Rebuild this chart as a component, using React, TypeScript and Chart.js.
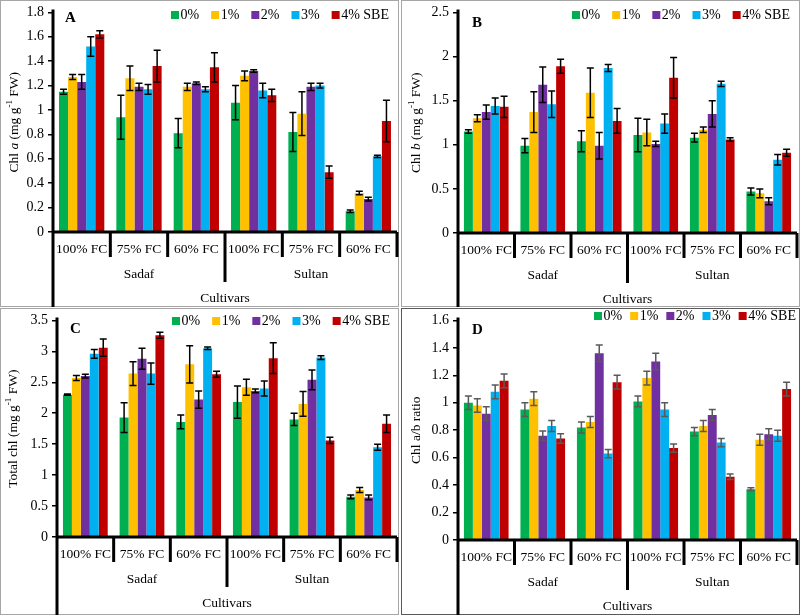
import React, { useEffect, useRef } from "react";
import { Chart, registerables } from "chart.js";
Chart.register(...registerables);

const FONT = "'Liberation Serif', 'Times New Roman', serif";

const categories = ["100% FC", "75% FC", "60% FC", "100% FC", "75% FC", "60% FC"];
const groups = ["Sadaf", "Sultan"];
const seriesNames = ["0%", "1%", "2%", "3%", "4% SBE"];
const seriesColors = ["#00B050", "#FFC000", "#7030A0", "#00B0F0", "#C00000"];

// Panel A: Chl a
const chlA0 = [1.15, 0.94, 0.81, 1.06, 0.82, 0.17];
const chlA1 = [1.27, 1.26, 1.19, 1.28, 0.97, 0.32];
const chlA2 = [1.23, 1.19, 1.22, 1.32, 1.19, 0.27];
const chlA3 = [1.52, 1.17, 1.17, 1.16, 1.2, 0.62];
const chlA4 = [1.62, 1.36, 1.35, 1.12, 0.49, 0.91];
const chlA0e = [0.02, 0.18, 0.12, 0.14, 0.16, 0.01];
const chlA1e = [0.02, 0.1, 0.03, 0.04, 0.18, 0.015];
const chlA2e = [0.06, 0.03, 0.01, 0.01, 0.03, 0.015];
const chlA3e = [0.08, 0.04, 0.02, 0.06, 0.02, 0.01];
const chlA4e = [0.03, 0.13, 0.12, 0.05, 0.05, 0.17];

// Panel B: Chl b
const chlB0 = [1.15, 0.99, 1.04, 1.11, 1.08, 0.47];
const chlB1 = [1.3, 1.37, 1.59, 1.14, 1.17, 0.45];
const chlB2 = [1.37, 1.68, 0.99, 1.01, 1.35, 0.36];
const chlB3 = [1.44, 1.46, 1.87, 1.24, 1.69, 0.83];
const chlB4 = [1.43, 1.89, 1.27, 1.76, 1.06, 0.91];
const chlB0e = [0.02, 0.08, 0.12, 0.19, 0.05, 0.04];
const chlB1e = [0.04, 0.23, 0.28, 0.15, 0.03, 0.05];
const chlB2e = [0.08, 0.2, 0.15, 0.03, 0.15, 0.04];
const chlB3e = [0.09, 0.15, 0.04, 0.11, 0.03, 0.06];
const chlB4e = [0.12, 0.08, 0.14, 0.23, 0.02, 0.04];

// Panel C: Total chl
const totC0 = [2.3, 1.93, 1.86, 2.18, 1.9, 0.65];
const totC1 = [2.57, 2.64, 2.79, 2.42, 2.15, 0.76];
const totC2 = [2.6, 2.88, 2.22, 2.36, 2.54, 0.64];
const totC3 = [2.96, 2.64, 3.05, 2.4, 2.9, 1.45];
const totC4 = [3.06, 3.26, 2.63, 2.89, 1.56, 1.83];
const totC0e = [0.01, 0.24, 0.11, 0.26, 0.1, 0.03];
const totC1e = [0.04, 0.19, 0.3, 0.13, 0.2, 0.04];
const totC2e = [0.03, 0.17, 0.14, 0.03, 0.16, 0.04];
const totC3e = [0.07, 0.17, 0.02, 0.12, 0.03, 0.05];
const totC4e = [0.14, 0.05, 0.05, 0.25, 0.05, 0.14];

// Panel D: Chl a/b ratio
const ratD0 = [1.0, 0.95, 0.82, 1.01, 0.79, 0.37];
const ratD1 = [0.98, 1.03, 0.86, 1.18, 0.83, 0.73];
const ratD2 = [0.92, 0.76, 1.36, 1.3, 0.91, 0.77];
const ratD3 = [1.08, 0.83, 0.63, 0.95, 0.71, 0.76];
const ratD4 = [1.16, 0.74, 1.15, 0.67, 0.46, 1.1];
const ratD0e = [0.05, 0.05, 0.04, 0.04, 0.03, 0.01];
const ratD1e = [0.05, 0.05, 0.04, 0.05, 0.04, 0.04];
const ratD2e = [0.05, 0.035, 0.06, 0.06, 0.04, 0.04];
const ratD3e = [0.05, 0.04, 0.03, 0.05, 0.03, 0.04];
const ratD4e = [0.05, 0.035, 0.05, 0.03, 0.02, 0.05];

type Seg = { t: string; s?: "i" | "sup" };

type Spec = {
  key: string;
  x: number; y: number; w: number; h: number;
  area: { l: number; r: number; t: number; b: number };
  max: number; step: number;
  title: Seg[];
  values: number[][];
  errors: number[][];
  legend: { x: number; y: number; spacing: number };
  letter: { x: number; y: number };
  titleX: number;
  errColor: string;
  border: string;
};

const panels: Spec[] = [
  {
    key: "A", x: 0, y: 0, w: 399, h: 307,
    area: { l: 53, r: 397, t: 10, b: 232 },
    max: 1.8, step: 0.2,
    title: [{ t: "Chl " }, { t: "a", s: "i" }, { t: " (mg g" }, { t: "-1", s: "sup" }, { t: " FW)" }],
    values: [chlA0, chlA1, chlA2, chlA3, chlA4],
    errors: [chlA0e, chlA1e, chlA2e, chlA3e, chlA4e],
    legend: { x: 171, y: 15, spacing: 12 },
    letter: { x: 65, y: 18 },
    titleX: 14, errColor: "#000", border: "#a6a6a6",
  },
  {
    key: "B", x: 401, y: 0, w: 399, h: 307,
    area: { l: 57, r: 396, t: 9, b: 233 },
    max: 2.5, step: 0.5,
    title: [{ t: "Chl " }, { t: "b", s: "i" }, { t: " (mg g" }, { t: "-1", s: "sup" }, { t: " FW)" }],
    values: [chlB0, chlB1, chlB2, chlB3, chlB4],
    errors: [chlB0e, chlB1e, chlB2e, chlB3e, chlB4e],
    legend: { x: 171, y: 15, spacing: 12 },
    letter: { x: 71, y: 23 },
    titleX: 15, errColor: "#000", border: "#a6a6a6",
  },
  {
    key: "C", x: 0, y: 308, w: 399, h: 307,
    area: { l: 57, r: 397, t: 8, b: 229 },
    max: 3.5, step: 0.5,
    title: [{ t: "Total chl (mg g" }, { t: "-1", s: "sup" }, { t: " FW)" }],
    values: [totC0, totC1, totC2, totC3, totC4],
    errors: [totC0e, totC1e, totC2e, totC3e, totC4e],
    legend: { x: 172, y: 13, spacing: 12 },
    letter: { x: 70, y: 21 },
    titleX: 13, errColor: "#000", border: "#a6a6a6",
  },
  {
    key: "D", x: 401, y: 308, w: 399, h: 307,
    area: { l: 57, r: 396, t: 8, b: 232 },
    max: 1.6, step: 0.2,
    title: [{ t: "Chl a/b ratio" }],
    values: [ratD0, ratD1, ratD2, ratD3, ratD4],
    errors: [ratD0e, ratD1e, ratD2e, ratD3e, ratD4e],
    legend: { x: 193, y: 8, spacing: 8 },
    letter: { x: 71, y: 22 },
    titleX: 15, errColor: "#595959", border: "#595959",
  },
];

function makeOverlay(spec: Spec) {
  return {
    id: "overlay" + spec.key,
    afterDatasetsDraw(chart: any) {
      const ctx = chart.ctx;
      const yScale = chart.scales.y;
      ctx.save();
      ctx.strokeStyle = spec.errColor;
      ctx.lineWidth = 1.5;
      spec.values.forEach((vals, i) => {
        const meta = chart.getDatasetMeta(i);
        vals.forEach((v, j) => {
          const bar = meta.data[j];
          const e = spec.errors[i][j];
          const y1 = yScale.getPixelForValue(v + e);
          const y2 = yScale.getPixelForValue(v - e);
          const x = bar.x;
          ctx.beginPath();
          ctx.moveTo(x, y1); ctx.lineTo(x, y2);
          ctx.moveTo(x - 3.5, y1); ctx.lineTo(x + 3.5, y1);
          ctx.moveTo(x - 3.5, y2); ctx.lineTo(x + 3.5, y2);
          ctx.stroke();
        });
      });
      ctx.restore();
    },
    afterDraw(chart: any) {
      const ctx = chart.ctx;
      const { left, right, top, bottom } = chart.chartArea;
      ctx.save();
      // panel border
      ctx.strokeStyle = spec.border;
      ctx.lineWidth = 1;
      ctx.strokeRect(0.5, 0.5, spec.w - 1, spec.h - 1);
      // axes
      ctx.strokeStyle = "#000";
      ctx.lineWidth = 3;
      ctx.beginPath();
      ctx.moveTo(left, top - 3);
      ctx.lineTo(left, spec.h);
      ctx.moveTo(left - 1.5, bottom);
      ctx.lineTo(right, bottom);
      ctx.stroke();
      const n = categories.length;
      const cw = (right - left) / n;
      ctx.beginPath();
      for (let i = 1; i <= n; i++) {
        const x = left + cw * i;
        const len = i === n / 2 ? 50 : 25;
        ctx.moveTo(x, bottom);
        ctx.lineTo(x, bottom + len);
      }
      ctx.stroke();
      // category labels
      ctx.fillStyle = "#000";
      ctx.font = `13.5px ${FONT}`;
      ctx.textAlign = "center";
      ctx.textBaseline = "middle";
      categories.forEach((c, i) => ctx.fillText(c, left + cw * (i + 0.5), bottom + 17));
      groups.forEach((g, i) => ctx.fillText(g, left + cw * (n / 2) * (i + 0.5), bottom + 42));
      ctx.fillText("Cultivars", (left + right) / 2, bottom + 66);
      // legend
      ctx.font = `14px ${FONT}`;
      ctx.textAlign = "left";
      let lx = spec.legend.x;
      const ly = spec.legend.y;
      seriesNames.forEach((name, i) => {
        ctx.fillStyle = seriesColors[i];
        ctx.fillRect(lx, ly - 4, 8, 8);
        ctx.fillStyle = "#000";
        ctx.fillText(name, lx + 9.5, ly + 0.5);
        lx += 9.5 + ctx.measureText(name).width + spec.legend.spacing;
      });
      // panel letter
      ctx.font = `bold 15px ${FONT}`;
      ctx.fillText(spec.key, spec.letter.x, spec.letter.y);
      // y title
      ctx.translate(spec.titleX, (top + bottom) / 2);
      ctx.rotate(-Math.PI / 2);
      const fontFor = (s?: string) =>
        s === "i" ? `italic 13.5px ${FONT}` : s === "sup" ? `9px ${FONT}` : `13.5px ${FONT}`;
      let total = 0;
      spec.title.forEach((seg) => {
        ctx.font = fontFor(seg.s);
        total += ctx.measureText(seg.t).width;
      });
      let tx = -total / 2;
      spec.title.forEach((seg) => {
        ctx.font = fontFor(seg.s);
        ctx.fillText(seg.t, tx, seg.s === "sup" ? -4 : 0.5);
        tx += ctx.measureText(seg.t).width;
      });
      ctx.restore();
    },
  };
}

function Panel({ spec }: { spec: Spec }) {
  const ref = useRef<HTMLCanvasElement | null>(null);
  useEffect(() => {
    if (!ref.current) return;
    const chart = new Chart(ref.current, {
      type: "bar",
      data: {
        labels: categories,
        datasets: spec.values.map((vals, i) => ({
          label: seriesNames[i],
          data: vals,
          backgroundColor: seriesColors[i],
          borderWidth: 0,
          categoryPercentage: 0.79,
          barPercentage: 1.0,
        })),
      },
      options: {
        animation: false,
        responsive: false,
        maintainAspectRatio: false,
        layout: { padding: { top: spec.area.t, right: spec.w - spec.area.r, left: 0, bottom: 0 } },
        plugins: { legend: { display: false }, tooltip: { enabled: false }, title: { display: false } },
        scales: {
          x: {
            ticks: { display: false },
            grid: { display: false },
            border: { display: false },
            afterFit: (s: any) => { s.height = spec.h - spec.area.b; },
          },
          y: {
            min: 0,
            max: spec.max,
            ticks: {
              stepSize: spec.step,
              color: "#000",
              font: { size: 14, family: FONT },
              padding: 4,
              callback: (v: any) => String(Number(Number(v).toFixed(2))),
            },
            grid: { drawOnChartArea: false, drawTicks: true, tickLength: 5, color: "#000", lineWidth: 1.5 },
            border: { display: false },
            afterFit: (s: any) => { s.width = spec.area.l; },
          },
        },
      } as any,
      plugins: [makeOverlay(spec)],
    });
    return () => chart.destroy();
  }, [spec]);
  return (
    <canvas
      ref={ref}
      width={spec.w}
      height={spec.h}
      style={{ position: "absolute", left: spec.x, top: spec.y, width: spec.w, height: spec.h, display: "block" }}
    />
  );
}

export default function App() {
  return (
    <div style={{ position: "fixed", left: 0, top: 0, width: 800, height: 615, background: "#fff" }}>
      {panels.map((p) => (
        <Panel key={p.key} spec={p} />
      ))}
    </div>
  );
}
